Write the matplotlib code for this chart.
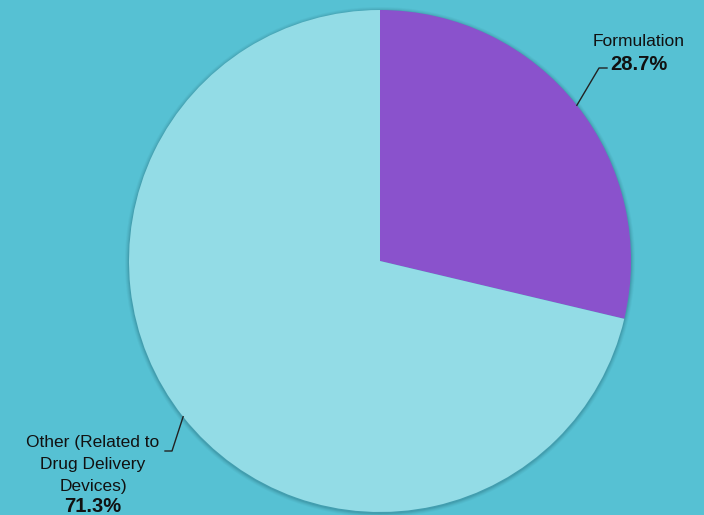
import numpy as np
import matplotlib
matplotlib.use("Agg")
import matplotlib.pyplot as plt
from matplotlib.patches import Circle

categories = ["Formulation", "Other (Related to\nDrug Delivery\nDevices)"]
values = [28.7, 71.3]
pct_labels = ["28.7%", "71.3%"]
colors = ["#8A52CC", "#93DCE6"]
bg = "#56C1D3"

W, H = 704, 515
fig = plt.figure(figsize=(W / 100, H / 100), dpi=100, facecolor=bg)
ax = fig.add_axes([0, 0, 1, 1])
ax.set_facecolor(bg)
ax.set_xlim(0, W)
ax.set_ylim(0, H)
ax.set_aspect("equal")
ax.axis("off")

cx, cy, R = 380, H - 261, 251

# soft shadow
for i, a in enumerate([0.05, 0.07, 0.10, 0.14]):
    ax.add_patch(Circle((cx, cy - 1), R + 4 - i, facecolor="#1d5a66", edgecolor="none", alpha=a, zorder=1))

wedges, _ = ax.pie(values, colors=colors, startangle=90, counterclock=False,
                   center=(cx, cy), radius=R, wedgeprops=dict(linewidth=0, zorder=2),
                   frame=True)
ax.set_xlim(0, W)
ax.set_ylim(0, H)
ax.axis("off")

font = "Liberation Sans"

# Formulation label
w = wedges[0]
ang = np.deg2rad((w.theta1 + w.theta2) / 2)
p0 = (cx + R * np.cos(ang), cy + R * np.sin(ang))
elbow = (599, H - 68)
end = (607, H - 68)
ax.plot([p0[0], elbow[0], end[0]], [p0[1], elbow[1], end[1]], color="#222222", lw=1, zorder=3)
ax.text(639, H - 41, categories[0], ha="center", va="center", fontsize=12.5, family=font, color="#111111")
ax.text(639, H - 64, pct_labels[0], ha="center", va="center", fontsize=14.5, family=font,
        fontweight="bold", color="#111111")

# Other label
w = wedges[1]
ang = np.deg2rad((w.theta1 + w.theta2) / 2)
p1 = (cx + R * np.cos(ang), cy + R * np.sin(ang))
elbow = (172, H - 451)
end = (165, H - 451)
ax.plot([p1[0], elbow[0], end[0]], [p1[1], elbow[1], end[1]], color="#222222", lw=1, zorder=3)
lines = categories[1].split("\n")
for k, ln in enumerate(lines):
    ax.text(93, H - (443 + 21.5 * k), ln, ha="center", va="center", fontsize=12.5, family=font, color="#111111")
ax.text(93, H - 507, pct_labels[1], ha="center", va="center", fontsize=14.5, family=font,
        fontweight="bold", color="#111111")

fig.savefig("out.png", dpi=100, facecolor=bg)
